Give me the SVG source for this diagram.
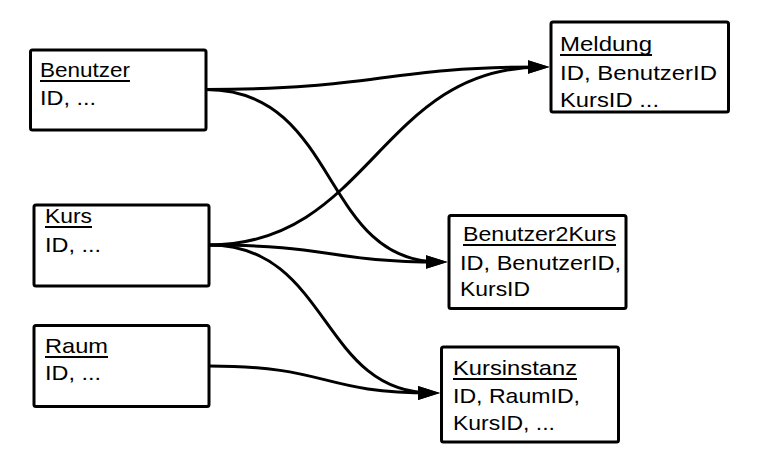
<svg xmlns="http://www.w3.org/2000/svg" width="760" height="468" viewBox="0 0 760 468">
<style>
.box{fill:#fff;stroke:#000;stroke-width:3}
.t{font-family:"Liberation Sans",Arial,sans-serif;font-size:21px;fill:#000}
.ul{stroke:#000;stroke-width:2}
.c{fill:none;stroke:#000;stroke-width:3}
</style>
<defs>
<marker id="ah" markerUnits="userSpaceOnUse" markerWidth="24" markerHeight="16" refX="14" refY="7" orient="auto">
<path d="M0,0 L22,7 L0,14 z" fill="#000"/>
</marker>
</defs>
<rect width="760" height="468" fill="#fff"/>
<g id="connectors">
<path class="c" d="M206,89.5 C380,89.5 380,67 541.5,67" marker-end="url(#ah)"/>
<path class="c" d="M206,89.5 C340,89.5 320,262 439.5,262" marker-end="url(#ah)"/>
<path class="c" d="M209,245 C370,245 380,67 541.5,67" marker-end="url(#ah)"/>
<path class="c" d="M209,245 C330,245 330,262 439.5,262" marker-end="url(#ah)"/>
<path class="c" d="M209,245 C330,245 320,393 432,393" marker-end="url(#ah)"/>
<path class="c" d="M209,366 C330,366 320,393 432,393" marker-end="url(#ah)"/>
</g>
<g id="benutzer">
<rect class="box" x="30.5" y="50" width="175.5" height="80" rx="2"/>
<text class="t" x="40" y="77" textLength="90" lengthAdjust="spacingAndGlyphs">Benutzer</text>
<line class="ul" x1="40" y1="81" x2="130" y2="81"/>
<text class="t" x="40" y="105" textLength="56" lengthAdjust="spacingAndGlyphs">ID, ...</text>
</g>
<g id="kurs">
<rect class="box" x="34" y="205" width="175" height="81" rx="2"/>
<text class="t" x="45" y="223" textLength="47" lengthAdjust="spacingAndGlyphs">Kurs</text>
<line class="ul" x1="45" y1="227" x2="92" y2="227"/>
<text class="t" x="45" y="252" textLength="56" lengthAdjust="spacingAndGlyphs">ID, ...</text>
</g>
<g id="raum">
<rect class="box" x="34" y="325.5" width="175" height="81" rx="2"/>
<text class="t" x="45" y="353" textLength="63" lengthAdjust="spacingAndGlyphs">Raum</text>
<line class="ul" x1="45" y1="357" x2="108" y2="357"/>
<text class="t" x="45" y="380" textLength="56" lengthAdjust="spacingAndGlyphs">ID, ...</text>
</g>
<g id="meldung">
<rect class="box" x="551" y="22" width="177.5" height="90" rx="2"/>
<text class="t" x="560" y="51" textLength="92" lengthAdjust="spacingAndGlyphs">Meldung</text>
<line class="ul" x1="560" y1="55" x2="652" y2="55"/>
<text class="t" x="560" y="80" textLength="157" lengthAdjust="spacingAndGlyphs">ID, BenutzerID</text>
<text class="t" x="560" y="107" textLength="99" lengthAdjust="spacingAndGlyphs">KursID ...</text>
</g>
<g id="benutzer2kurs">
<rect class="box" x="449" y="215.5" width="177" height="93" rx="2"/>
<text class="t" x="463" y="241" textLength="153" lengthAdjust="spacingAndGlyphs">Benutzer2Kurs</text>
<line class="ul" x1="463" y1="245" x2="616" y2="245"/>
<text class="t" x="460" y="270" textLength="161" lengthAdjust="spacingAndGlyphs">ID, BenutzerID,</text>
<text class="t" x="460" y="296" textLength="70" lengthAdjust="spacingAndGlyphs">KursID</text>
</g>
<g id="kursinstanz">
<rect class="box" x="441.5" y="347" width="177" height="95" rx="2"/>
<text class="t" x="453" y="375" textLength="124" lengthAdjust="spacingAndGlyphs">Kursinstanz</text>
<line class="ul" x1="453" y1="379" x2="577" y2="379"/>
<text class="t" x="453" y="403" textLength="127" lengthAdjust="spacingAndGlyphs">ID, RaumID,</text>
<text class="t" x="453" y="430" textLength="102" lengthAdjust="spacingAndGlyphs">KursID, ...</text>
</g>
</svg>
